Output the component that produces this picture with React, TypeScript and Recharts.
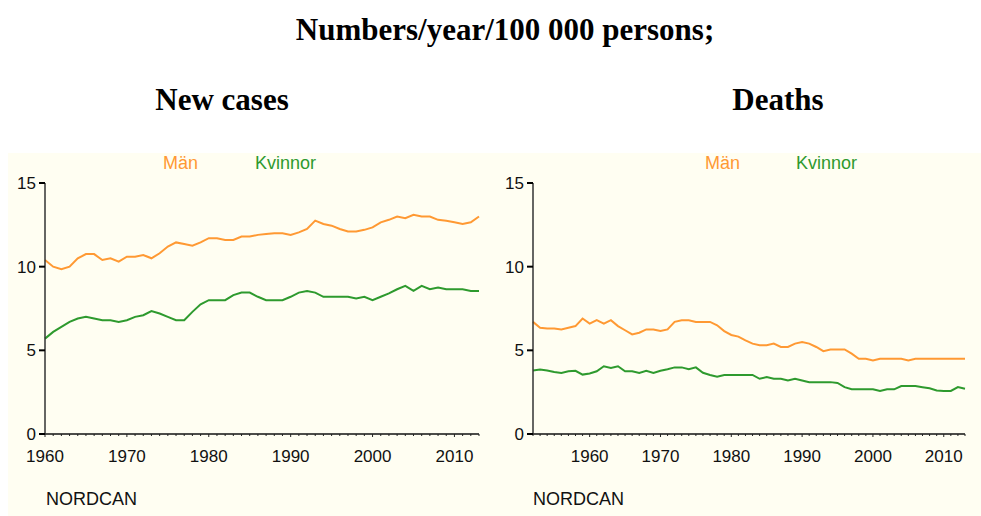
import React from "react";
import { LineChart, Line, XAxis, YAxis } from "recharts";

// New cases, 1960-2013
const incYears = Array.from({ length: 54 }, (_, i) => 1960 + i);
const incMen = [
  10.4, 10.0, 9.85, 10.0, 10.5, 10.75, 10.75, 10.4, 10.5, 10.3,
  10.6, 10.6, 10.7, 10.5, 10.8, 11.2, 11.45, 11.35, 11.25, 11.45,
  11.7, 11.7, 11.6, 11.6, 11.8, 11.8, 11.9, 11.95, 12.0, 12.0,
  11.9, 12.05, 12.25, 12.75, 12.55, 12.45, 12.25, 12.1, 12.1, 12.2,
  12.35, 12.65, 12.8, 13.0, 12.9, 13.1, 13.0, 13.0, 12.8, 12.75,
  12.65, 12.55, 12.65, 13.0,
];
const incWomen = [
  5.7, 6.1, 6.4, 6.7, 6.9, 7.0, 6.9, 6.8, 6.8, 6.7,
  6.8, 7.0, 7.1, 7.35, 7.2, 7.0, 6.8, 6.8, 7.3, 7.75,
  8.0, 8.0, 8.0, 8.3, 8.45, 8.45, 8.2, 8.0, 8.0, 8.0,
  8.2, 8.45, 8.55, 8.45, 8.2, 8.2, 8.2, 8.2, 8.1, 8.2,
  8.0, 8.2, 8.4, 8.65, 8.85, 8.55, 8.85, 8.65, 8.75, 8.65,
  8.65, 8.65, 8.55, 8.55,
];

// Deaths, 1952-2013
const mortYears = Array.from({ length: 62 }, (_, i) => 1952 + i);
const mortMen = [
  6.7, 6.35, 6.3, 6.3, 6.25, 6.35, 6.45, 6.9,
  6.6, 6.8, 6.6, 6.8, 6.45, 6.2, 5.95, 6.05, 6.25, 6.25,
  6.15, 6.25, 6.7, 6.8, 6.8, 6.7, 6.7, 6.7, 6.5, 6.15,
  5.92, 5.82, 5.6, 5.4, 5.3, 5.3, 5.4, 5.2, 5.2, 5.4,
  5.5, 5.4, 5.2, 4.95, 5.05, 5.05, 5.05, 4.8, 4.5, 4.5,
  4.4, 4.5, 4.5, 4.5, 4.5, 4.4, 4.5, 4.5, 4.5, 4.5,
  4.5, 4.5, 4.5, 4.5,
];
const mortWomen = [
  3.8, 3.85, 3.8, 3.7, 3.65, 3.75, 3.78, 3.55,
  3.62, 3.75, 4.05, 3.95, 4.05, 3.75, 3.75, 3.65, 3.78, 3.65,
  3.78, 3.87, 3.98, 3.98, 3.87, 3.98, 3.66, 3.53, 3.43, 3.53,
  3.53, 3.53, 3.53, 3.53, 3.3, 3.4, 3.3, 3.3, 3.2, 3.3,
  3.2, 3.1, 3.1, 3.1, 3.1, 3.05, 2.8, 2.68, 2.67, 2.67,
  2.67, 2.57, 2.67, 2.67, 2.87, 2.87, 2.87, 2.8, 2.73, 2.6,
  2.57, 2.57, 2.8, 2.7,
];

const yTicks = [0, 5, 10, 15];
const seriesNames = ["Män", "Kvinnor"];

const ORANGE = "#ff9933";
const GREEN = "#2e9a2e";
const SANS = "'Liberation Sans', Arial, sans-serif";
const SERIF = "'Liberation Serif', 'Times New Roman', serif";

const XTick = (props: any) => {
  const { x, y, payload } = props;
  const major = payload.value % 10 === 0;
  return (
    <g>
      <line x1={x} x2={x} y1={y} y2={y + (major ? 3 : 2)} stroke="#222" strokeWidth={1} />
      {major && (
        <text x={x} y={y + 28} textAnchor="middle" fontSize={17} fontFamily={SANS} fill="#111">
          {payload.value}
        </text>
      )}
    </g>
  );
};

const YTick = (props: any) => {
  const { x, y, payload } = props;
  return (
    <g>
      <line x1={x - 6} x2={x} y1={y} y2={y} stroke="#000" strokeWidth={2} />
      <text x={x - 9} y={y + 6} textAnchor="end" fontSize={17} fontFamily={SANS} fill="#111">
        {payload.value}
      </text>
    </g>
  );
};

function Panel({
  years,
  men,
  women,
  start,
  yAxisWidth,
  rightMargin,
}: {
  years: number[];
  men: number[];
  women: number[];
  start: number;
  yAxisWidth: number;
  rightMargin: number;
}) {
  const data = years.map((year, i) => ({ year, men: men[i], women: women[i] }));
  return (
    <LineChart
      width={490}
      height={346}
      data={data}
      margin={{ top: 13, right: rightMargin, left: 0, bottom: 52 }}
    >
      <XAxis
        dataKey="year"
        type="number"
        domain={[start, 2013]}
        ticks={years}
        interval={0}
        tick={<XTick />}
        tickLine={false}
        tickSize={0}
        tickMargin={0}
        height={30}
        axisLine={{ stroke: "#111", strokeWidth: 1.5 }}
      />
      <YAxis
        type="number"
        domain={[0, 15]}
        ticks={yTicks}
        interval={0}
        tick={<YTick />}
        tickLine={false}
        tickSize={0}
        tickMargin={0}
        width={yAxisWidth}
        axisLine={{ stroke: "#333", strokeWidth: 1.5 }}
      />
      <Line dataKey="men" stroke={ORANGE} strokeWidth={2} dot={false} isAnimationActive={false} />
      <Line dataKey="women" stroke={GREEN} strokeWidth={2} dot={false} isAnimationActive={false} />
    </LineChart>
  );
}

const abs = (left: number, top: number): React.CSSProperties => ({
  position: "absolute",
  left,
  top,
  whiteSpace: "nowrap",
});

const heading: React.CSSProperties = {
  fontFamily: SERIF,
  fontWeight: "bold",
  fontSize: 31,
  textAlign: "center",
  lineHeight: "36px",
};

export default function App() {
  return (
    <div style={{ position: "relative", width: 981, height: 516, background: "#fff", overflow: "hidden" }}>
      <style>{`body{margin:0}`}</style>
      <div style={{ ...abs(0, 12), width: 1010, ...heading }}>Numbers/year/100 000 persons;</div>
      <div style={{ ...abs(0, 82), width: 444, ...heading }}>New cases</div>
      <div style={{ ...abs(556, 82), width: 444, ...heading }}>Deaths</div>

      <div style={{ ...abs(8, 153), width: 973, height: 363, background: "#fffef2" }} />

      <div style={{ ...abs(163, 153), fontFamily: SANS, fontSize: 18, color: ORANGE }}>{seriesNames[0]}</div>
      <div style={{ ...abs(255, 153), fontFamily: SANS, fontSize: 18, color: GREEN }}>{seriesNames[1]}</div>
      <div style={{ ...abs(705, 153), fontFamily: SANS, fontSize: 18, color: ORANGE }}>{seriesNames[0]}</div>
      <div style={{ ...abs(796, 153), fontFamily: SANS, fontSize: 18, color: GREEN }}>{seriesNames[1]}</div>

      <div style={{ ...abs(0, 170) }}>
        <Panel years={incYears} men={incMen} women={incWomen} start={1960} yAxisWidth={45} rightMargin={11} />
      </div>
      <div style={{ ...abs(490, 170) }}>
        <Panel years={mortYears} men={mortMen} women={mortWomen} start={1952} yAxisWidth={43} rightMargin={15} />
      </div>

      <div style={{ ...abs(46, 489), fontFamily: SANS, fontSize: 18, color: "#111" }}>NORDCAN</div>
      <div style={{ ...abs(533, 489), fontFamily: SANS, fontSize: 18, color: "#111" }}>NORDCAN</div>
    </div>
  );
}
